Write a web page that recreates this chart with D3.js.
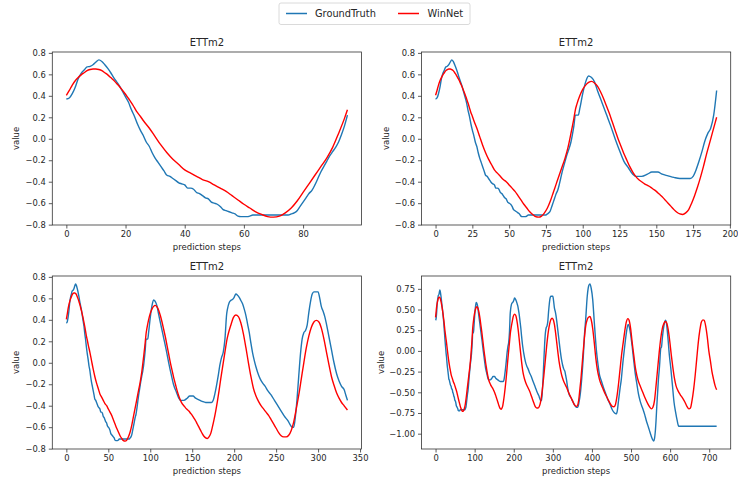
<!DOCTYPE html>
<html><head><meta charset="utf-8">
<script src="https://cdn.jsdelivr.net/npm/d3@7"></script>
<style>
body{margin:0;background:#fff}
svg{display:block}
text{font-family:"DejaVu Sans",sans-serif;fill:#262626}
</style>
</head><body>
<svg id="chart" width="738" height="483"></svg>
<script>
// ---------------- data ----------------
const seriesNames = ["GroundTruth", "WinNet"];
const seriesColors = ["#1f77b4", "#ff0000"];
const panelTitle = "ETTm2";
const horizons = [96, 192, 336, 720];
const xTicks1 = [0, 20, 40, 60, 80];
const xTicks2 = [0, 25, 50, 75, 100, 125, 150, 175, 200];
const xTicks3 = [0, 50, 100, 150, 200, 250, 300, 350];
const xTicks4 = [0, 100, 200, 300, 400, 500, 600, 700];
const yTicksSmall = [-0.8, -0.6, -0.4, -0.2, 0.0, 0.2, 0.4, 0.6, 0.8];
const yTicksLarge = [-1.0, -0.75, -0.5, -0.25, 0.0, 0.25, 0.5, 0.75];

const truthSteps = [0,1,2,3,4,5,6,7,8,9,10,11,12,13,14,15,16,17,18,19,20,21,22,23,24,25,26,27,28,29,30,31,32,33,34,35,36,37,38,39,40,41,42,43,44,45,46,47,48,49,50,51,52,53,54,55,56,57,58,59,61,62,63,75,76,77,78,79,80,81,82,83,84,85,86,87,88,89,90,91,92,93,94,95,
96,97,98,100,102,104,105,106,108,110,113,116,119,122,125,128,131,134,136,140,144,147,151,154,158,162,166,173,175,177,179,181,183,185,187,189,191,
192,194,196,198,200,202,204,206,208,210,212,214,216,218,220,222,224,226,228,231,234,237,240,244,248,252,256,260,264,267,269,271,273,275,277,279,281,283,285,287,289,291,293,295,300,302,304,306,308,310,313,316,319,322,325,328,331,333,335,
338,342,346,350,355,360,364,367,370,374,378,381,384,388,392,395,398,402,406,409,412,416,419,424,428,434,440,446,453,458,462,465,468,472,475,479,483,487,491,493,496,499,503,507,511,515,519,523,527,531,535,539,543,547,551,555,558,560,562,564,566,570,573,576,578,580,584,588,590,594,598,602,606,610,614,618,622,719];
const truthValues = [0.37,0.38,0.42,0.48,0.56,0.61,0.64,0.67,0.675,0.69,0.715,0.735,0.72,0.69,0.655,0.615,0.57,0.53,0.49,0.44,0.39,0.34,0.27,0.21,0.14,0.08,0.03,-0.03,-0.07,-0.13,-0.18,-0.22,-0.26,-0.30,-0.34,-0.35,-0.37,-0.39,-0.41,-0.42,-0.43,-0.46,-0.46,-0.47,-0.50,-0.51,-0.53,-0.55,-0.56,-0.59,-0.60,-0.61,-0.63,-0.66,-0.67,-0.68,-0.69,-0.70,-0.72,-0.725,-0.725,-0.72,-0.71,-0.71,-0.70,-0.69,-0.67,-0.63,-0.59,-0.55,-0.51,-0.48,-0.43,-0.37,-0.31,-0.26,-0.21,-0.16,-0.12,-0.08,-0.03,0.04,0.12,0.22,
0.22,0.22,0.28,0.42,0.53,0.585,0.58,0.57,0.53,0.45,0.34,0.23,0.12,0.0,-0.11,-0.21,-0.27,-0.33,-0.35,-0.35,-0.33,-0.31,-0.31,-0.33,-0.345,-0.36,-0.37,-0.37,-0.35,-0.29,-0.21,-0.12,-0.02,0.05,0.10,0.22,0.45,
0.50,0.56,0.58,0.59,0.61,0.64,0.63,0.61,0.58,0.55,0.50,0.44,0.36,0.28,0.18,0.09,0.02,-0.04,-0.09,-0.15,-0.19,-0.22,-0.26,-0.30,-0.35,-0.40,-0.45,-0.50,-0.54,-0.58,-0.60,-0.60,-0.50,-0.33,-0.12,0.08,0.22,0.28,0.30,0.35,0.47,0.57,0.64,0.66,0.66,0.60,0.52,0.48,0.43,0.36,0.24,0.12,0.0,-0.10,-0.17,-0.22,-0.25,-0.30,-0.35,
-0.45,-0.53,-0.56,-0.60,-0.65,-0.68,-0.68,-0.62,-0.53,-0.33,-0.06,0.20,0.38,0.66,0.79,0.81,0.76,0.62,0.35,0.15,-0.02,-0.18,-0.28,-0.36,-0.42,-0.50,-0.58,-0.64,-0.72,-0.75,-0.76,-0.72,-0.60,-0.45,-0.35,-0.15,0.02,0.18,0.30,0.32,0.28,0.20,0.05,-0.12,-0.28,-0.40,-0.52,-0.60,-0.66,-0.71,-0.77,-0.84,-0.90,-0.96,-1.02,-1.07,-1.09,-1.06,-0.98,-0.84,-0.66,-0.35,-0.18,0.03,0.05,0.15,0.30,0.37,0.35,0.18,-0.05,-0.22,-0.42,-0.62,-0.74,-0.84,-0.91,-0.91];

const predSteps = [0,1,2,3,4,5,6,7,8,9,10,11,12,13,14,15,16,17,18,19,20,21,22,23,24,25,26,28,30,32,34,36,38,40,42,44,46,48,50,52,54,56,58,60,62,64,66,68,70,72,74,76,78,80,82,84,86,88,90,92,94,95,
96,98,100,102,104,106,108,110,112,114,116,118,120,122,124,126,128,130,132,134,136,138,140,142,144,146,148,150,152,154,156,158,160,162,164,166,168,170,172,174,176,178,180,182,184,186,188,190,191,
193,196,199,202,205,208,211,214,217,220,223,226,229,232,235,238,241,244,247,250,253,256,259,262,265,268,271,274,277,280,283,286,289,292,295,298,301,304,307,310,313,316,319,322,325,328,331,335,
340,345,350,355,360,363,366,369,372,376,380,384,388,392,395,398,402,406,410,414,419,424,428,434,440,446,452,456,460,464,468,472,476,480,484,488,492,495,499,503,507,511,515,519,524,530,536,543,548,552,556,560,564,568,572,576,580,584,588,591,595,599,603,607,611,615,620,626,632,638,643,648,652,656,660,664,668,672,676,680,684,687,691,695,699,703,707,711,715,719];
const predValues = [0.405,0.45,0.50,0.54,0.57,0.595,0.615,0.635,0.645,0.65,0.65,0.645,0.635,0.615,0.595,0.57,0.545,0.515,0.485,0.45,0.415,0.375,0.335,0.29,0.245,0.21,0.17,0.10,0.02,-0.06,-0.13,-0.19,-0.24,-0.29,-0.32,-0.35,-0.38,-0.40,-0.43,-0.46,-0.49,-0.53,-0.57,-0.61,-0.645,-0.68,-0.705,-0.725,-0.73,-0.72,-0.69,-0.645,-0.58,-0.50,-0.42,-0.34,-0.26,-0.18,-0.08,0.05,0.19,0.27,
0.32,0.40,0.46,0.50,0.525,0.535,0.52,0.49,0.44,0.38,0.31,0.24,0.16,0.08,0.0,-0.07,-0.14,-0.20,-0.26,-0.31,-0.35,-0.38,-0.40,-0.42,-0.435,-0.45,-0.47,-0.49,-0.515,-0.54,-0.57,-0.60,-0.63,-0.66,-0.685,-0.70,-0.705,-0.69,-0.66,-0.60,-0.53,-0.45,-0.36,-0.26,-0.15,-0.05,0.05,0.15,0.20,
0.27,0.35,0.42,0.445,0.43,0.37,0.27,0.14,0.0,-0.13,-0.24,-0.31,-0.36,-0.40,-0.43,-0.46,-0.49,-0.53,-0.57,-0.61,-0.65,-0.68,-0.69,-0.69,-0.675,-0.63,-0.55,-0.43,-0.30,-0.15,0.0,0.14,0.25,0.33,0.38,0.395,0.38,0.32,0.22,0.10,-0.02,-0.13,-0.21,-0.28,-0.33,-0.37,-0.40,-0.44,
-0.50,-0.55,-0.60,-0.65,-0.67,-0.66,-0.60,-0.47,-0.33,-0.10,0.12,0.30,0.38,0.41,0.415,0.38,0.27,0.10,-0.09,-0.23,-0.34,-0.41,-0.455,-0.52,-0.575,-0.63,-0.67,-0.675,-0.65,-0.55,-0.40,-0.22,-0.04,0.10,0.24,0.35,0.39,0.37,0.27,0.10,-0.05,-0.20,-0.30,-0.37,-0.43,-0.50,-0.57,-0.64,-0.68,-0.70,-0.68,-0.60,-0.42,-0.22,-0.02,0.15,0.27,0.33,0.355,0.34,0.26,0.12,-0.05,-0.20,-0.33,-0.42,-0.48,-0.53,-0.57,-0.62,-0.67,-0.70,-0.69,-0.60,-0.47,-0.30,-0.10,0.10,0.25,0.35,0.375,0.37,0.30,0.17,0.0,-0.12,-0.25,-0.34,-0.42,-0.47];

// ---------------- layout ----------------
const panels = [
  {h: horizons[0], xt: xTicks1, yt: yTicksSmall, fmt: ".1f", left: 52.3, right: 361.5, top: 52, bottom: 225, ylabX: 16},
  {h: horizons[1], xt: xTicks2, yt: yTicksSmall, fmt: ".1f", left: 421.5, right: 730.7, top: 52, bottom: 225, ylabX: 386.5},
  {h: horizons[2], xt: xTicks3, yt: yTicksSmall, fmt: ".1f", left: 52.3, right: 361.5, top: 276, bottom: 449, ylabX: 16},
  {h: horizons[3], xt: xTicks4, yt: yTicksLarge, fmt: ".2f", left: 421.5, right: 730.7, top: 276, bottom: 449, ylabX: 381.5}
];

const svg = d3.select("#chart");
const truth = truthSteps.map((s, i) => ({x: s, y: truthValues[i]}));
const pred = predSteps.map((s, i) => ({x: s, y: predValues[i]}));

panels.forEach(p => {
  const t = truth.filter(d => d.x < p.h);
  const pr = pred.filter(d => d.x < p.h);
  const n = p.h - 1;
  const ymin = Math.min(d3.min(t, d => d.y), d3.min(pr, d => d.y));
  const ymax = Math.max(d3.max(t, d => d.y), d3.max(pr, d => d.y));
  const yr = ymax - ymin;
  const x = d3.scaleLinear().domain([-0.05 * n, n * 1.05]).range([p.left, p.right]);
  const y = d3.scaleLinear().domain([ymin - 0.05 * yr, ymax + 0.05 * yr]).range([p.bottom, p.top]);
  const g = svg.append("g");

  const line = d3.line().x(d => x(d.x)).y(d => y(d.y)).curve(d3.curveMonotoneX);
  g.append("path").datum(t).attr("d", line).attr("fill", "none")
    .attr("stroke", seriesColors[0]).attr("stroke-width", 1.4).attr("stroke-linejoin", "round");
  g.append("path").datum(pr).attr("d", line).attr("fill", "none")
    .attr("stroke", seriesColors[1]).attr("stroke-width", 1.4).attr("stroke-linejoin", "round");

  // axes
  const xAxis = d3.axisBottom(x).tickValues(p.xt).tickSize(3.5).tickPadding(3).tickFormat(d3.format("d"));
  const yAxis = d3.axisLeft(y).tickValues(p.yt).tickSize(3.5).tickPadding(3).tickFormat(d3.format(p.fmt));
  const gx = g.append("g").attr("transform", `translate(0,${p.bottom})`).call(xAxis);
  const gy = g.append("g").attr("transform", `translate(${p.left},0)`).call(yAxis);
  [gx, gy].forEach(a => {
    a.select(".domain").remove();
    a.selectAll("line").attr("stroke", "#333").attr("stroke-width", 0.8);
    a.selectAll("text").attr("font-size", "8.4px").attr("fill", "#262626")
      .style("font-family", '"DejaVu Sans", sans-serif');
  });

  // frame
  g.append("rect").attr("x", p.left).attr("y", p.top)
    .attr("width", p.right - p.left).attr("height", p.bottom - p.top)
    .attr("fill", "none").attr("stroke", "#333").attr("stroke-width", 0.8);

  // title & labels
  g.append("text").attr("x", (p.left + p.right) / 2).attr("y", p.top - 6)
    .attr("text-anchor", "middle").attr("font-size", "10px").text(panelTitle);
  g.append("text").attr("x", (p.left + p.right) / 2).attr("y", p.bottom + 22)
    .attr("dy", "0.35em").attr("text-anchor", "middle").attr("font-size", "8.5px").text("prediction steps");
  g.append("text").attr("transform", `translate(${p.ylabX},${(p.top + p.bottom) / 2}) rotate(-90)`)
    .attr("dy", "0.35em").attr("text-anchor", "middle").attr("font-size", "8.5px").text("value");
});

// legend
const lg = svg.append("g");
lg.append("rect").attr("x", 279).attr("y", 3).attr("width", 191).attr("height", 21.5)
  .attr("rx", 2).attr("fill", "#fff").attr("stroke", "#d0d0d0").attr("stroke-width", 0.8);
const legendItems = [
  {x0: 286, x1: 307, tx: 315},
  {x0: 398, x1: 419, tx: 427.5}
];
legendItems.forEach((it, i) => {
  lg.append("line").attr("x1", it.x0).attr("x2", it.x1).attr("y1", 13.5).attr("y2", 13.5)
    .attr("stroke", seriesColors[i]).attr("stroke-width", 1.5);
  lg.append("text").attr("x", it.tx).attr("y", 13.5).attr("dy", "0.35em")
    .attr("font-size", "9.8px").text(seriesNames[i]);
});
</script>
</body></html>
